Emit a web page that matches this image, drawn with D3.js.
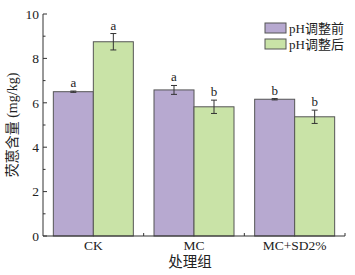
<!DOCTYPE html>
<html><head><meta charset="utf-8">
<script src="https://cdn.jsdelivr.net/npm/d3@7"></script>
<style>body{margin:0;background:#fff}svg{display:block}text{font-family:"Liberation Serif","Times New Roman","Noto Sans CJK SC",serif;fill:#222}</style>
</head><body><div id="c"></div>
<script>
const categories = ["CK", "MC", "MC+SD2%"];
const seriesNames = ["pH调整前", "pH调整后"];
const before = [6.5, 6.58, 6.16];
const beforeErr = [0.03, 0.2, 0.03];
const after = [8.75, 5.82, 5.37];
const afterErr = [0.37, 0.3, 0.3];
const beforeSig = ["a", "a", "b"];
const afterSig = ["a", "b", "b"];
const yTicks = [0, 2, 4, 6, 8, 10];
const colors = ["#b7a9d0", "#c9e3a7"];

const W = 355, H = 275;
const m = {l: 43, r: 10, t: 14, b: 39};
const svg = d3.select("#c").append("svg").attr("width", W).attr("height", H);
const x = d3.scaleBand().domain(categories).range([m.l, 345]).paddingInner(0).paddingOuter(0);
const y = d3.scaleLinear().domain([0, 10]).range([236, 14]);
const bw = 40;
const series = [before, after], errs = [beforeErr, afterErr], sigs = [beforeSig, afterSig];

const g = svg.append("g");
series.forEach((vals, si) => {
  categories.forEach((c, i) => {
    const cx = x(c) + x.bandwidth() / 2;
    const x0 = cx - bw + si * bw;
    g.append("rect").attr("x", x0).attr("y", y(vals[i])).attr("width", bw)
      .attr("height", y(0) - y(vals[i])).attr("fill", colors[si])
      .attr("stroke", "#555").attr("stroke-width", 1);
    const bx = x0 + bw / 2;
    const e = errs[si][i];
    const top = y(vals[i] + e), bot = y(vals[i] - e);
    g.append("line").attr("x1", bx).attr("x2", bx).attr("y1", top).attr("y2", bot).attr("stroke", "#333");
    [top, bot].forEach(yy => g.append("line").attr("x1", bx - 3).attr("x2", bx + 3).attr("y1", yy).attr("y2", yy).attr("stroke", "#333"));
    g.append("text").attr("x", bx).attr("y", top - 4).attr("text-anchor", "middle")
      .attr("font-size", 13).text(sigs[si][i]);
  });
});

// y axis
const ya = svg.append("g").attr("transform", `translate(${m.l},0)`);
ya.append("line").attr("x1", 0).attr("x2", 0).attr("y1", y(10)).attr("y2", y(0)).attr("stroke", "#333");
d3.range(0, 10.01, 1).forEach(v => {
  const major = v % 2 === 0;
  ya.append("line").attr("x1", 0).attr("x2", major ? 4 : 2.5).attr("y1", y(v)).attr("y2", y(v)).attr("stroke", "#333");
});
yTicks.forEach(v => ya.append("text").attr("x", -4).attr("y", y(v)).attr("dy", "0.35em")
  .attr("text-anchor", "end").attr("font-size", 13.5).text(v));

// x axis
const xa = svg.append("g");
xa.append("line").attr("x1", m.l).attr("x2", 345).attr("y1", y(0)).attr("y2", y(0)).attr("stroke", "#333");
[x("MC"), x("MC+SD2%"), 345].forEach(px => xa.append("line").attr("x1", px).attr("x2", px).attr("y1", y(0)).attr("y2", y(0) - 3).attr("stroke", "#333"));
categories.forEach(c => xa.append("text").attr("x", x(c) + x.bandwidth() / 2).attr("y", 250)
  .attr("text-anchor", "middle").attr("font-size", 13.5).text(c));
svg.append("text").attr("x", 190).attr("y", 267).attr("text-anchor", "middle").attr("font-size", 14.5).text("处理组");
svg.append("text").attr("transform", "translate(17,125) rotate(-90)").attr("text-anchor", "middle")
  .attr("font-size", 14).text("荧蒽含量 (mg/kg)");

// legend
seriesNames.forEach((n, i) => {
  const ly = 23 + i * 16;
  svg.append("rect").attr("x", 265).attr("y", ly).attr("width", 21).attr("height", 10)
    .attr("fill", colors[i]).attr("stroke", "#555");
  svg.append("text").attr("x", 289).attr("y", ly + 5).attr("dy", "0.35em").attr("font-size", 13).text(n);
});
</script></body></html>
